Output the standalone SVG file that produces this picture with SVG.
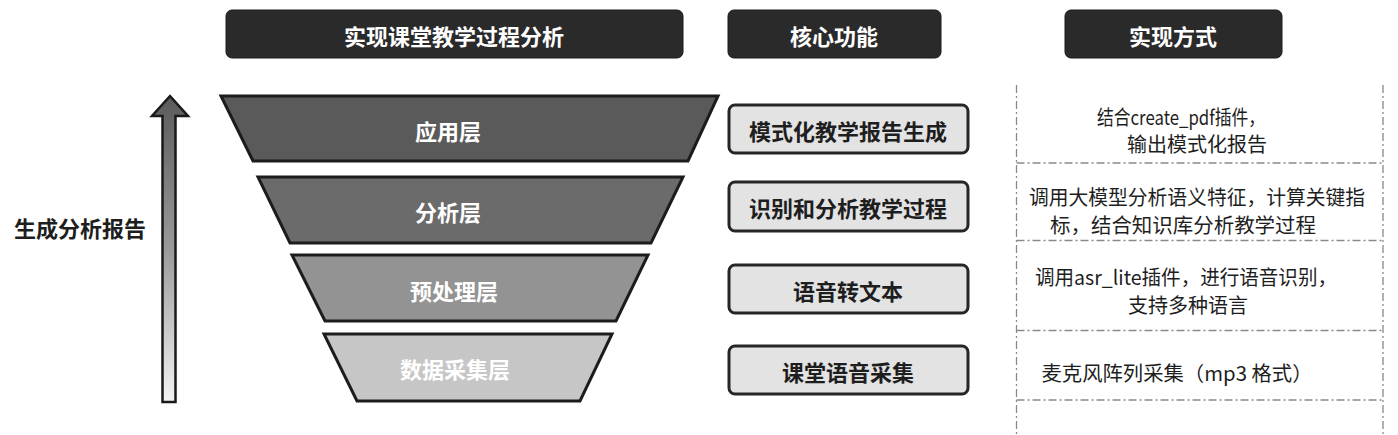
<svg xmlns="http://www.w3.org/2000/svg" width="1398" height="435" viewBox="0 0 1398 435">
<style>
.hdr{fill:#2b2a2b;stroke:#1a1a1a;stroke-width:1}
.hdrt{font-family:"Noto Sans CJK SC","Noto Sans",sans-serif;font-weight:bold;font-size:22px;fill:#ffffff;text-anchor:middle;dominant-baseline:central}
.trap{stroke:#1c1c1c;stroke-width:3;stroke-linejoin:miter}
.trapt{font-family:"Noto Sans CJK SC","Noto Sans",sans-serif;font-weight:bold;font-size:22px;fill:#ffffff;text-anchor:middle;dominant-baseline:central}
.fn{fill:#e3e3e3;stroke:#262626;stroke-width:3}
.fnt{font-family:"Noto Sans CJK SC","Noto Sans",sans-serif;font-weight:bold;font-size:22px;fill:#1e1e1e;text-anchor:middle;dominant-baseline:central}
.dd{stroke:#8a8a8a;stroke-width:1.3;fill:none;stroke-dasharray:8 3 2 3}
.rt{font-family:"Noto Sans CJK SC","Noto Sans",sans-serif;font-size:20px;fill:#1e1e1e;text-anchor:middle;dominant-baseline:central}
.side{font-family:"Noto Sans CJK SC","Noto Sans",sans-serif;font-weight:bold;font-size:22px;fill:#1e1e1e;text-anchor:middle;dominant-baseline:central}
</style>
<defs>
<linearGradient id="ag" x1="0" y1="0" x2="0" y2="1">
<stop offset="0" stop-color="#5a5a5a"/>
<stop offset="0.5" stop-color="#9a9a9a"/>
<stop offset="1" stop-color="#f4f4f4"/>
</linearGradient>
</defs>

<g id="header-1"><rect class="hdr" x="226" y="10" width="457" height="48" rx="6"/><text class="hdrt" x="454" y="35">实现课堂教学过程分析</text></g>
<g id="header-2"><rect class="hdr" x="728" y="10" width="213" height="48" rx="6"/><text class="hdrt" x="834" y="35">核心功能</text></g>
<g id="header-3"><rect class="hdr" x="1065" y="10" width="217" height="48" rx="6"/><text class="hdrt" x="1173" y="35">实现方式</text></g>

<g id="arrow">
<path d="M162.5,402 L162.5,116 L152,116 L170,96 L188,116 L175.5,116 L175.5,402 Z" fill="url(#ag)" stroke="#1a1a1a" stroke-width="2.5" stroke-linejoin="miter"/>
</g>
<g id="side-label"><text class="side" x="80" y="227">生成分析报告</text></g>

<g id="layer-1"><polygon class="trap" fill="#5a5a5a" points="221,96 718,96 688,161 253,161"/><text class="trapt" x="448" y="130">应用层</text></g>
<g id="layer-2"><polygon class="trap" fill="#6b6b6b" points="258,177 683,177 651,243 290,243"/><text class="trapt" x="448" y="211">分析层</text></g>
<g id="layer-3"><polygon class="trap" fill="#939393" points="292,255 648,255 616,321 325,321"/><text class="trapt" x="454" y="290">预处理层</text></g>
<g id="layer-4"><polygon class="trap" fill="#c6c6c6" points="324,334 612,334 580,401 357,401"/><text class="trapt" x="455" y="368" fill="#f2f2f2">数据采集层</text></g>

<g id="fn-1"><rect class="fn" x="729" y="105" width="239" height="48" rx="6"/><text class="fnt" x="848" y="130">模式化教学报告生成</text></g>
<g id="fn-2"><rect class="fn" x="729" y="182" width="239" height="49" rx="6"/><text class="fnt" x="848" y="207">识别和分析教学过程</text></g>
<g id="fn-3"><rect class="fn" x="729" y="265" width="239" height="48" rx="6"/><text class="fnt" x="848" y="290">语音转文本</text></g>
<g id="fn-4"><rect class="fn" x="729" y="346" width="239" height="48" rx="6"/><text class="fnt" x="848" y="371">课堂语音采集</text></g>

<g id="connectors">
<line class="dd" x1="1016.5" y1="85" x2="1016.5" y2="435"/>
<line class="dd" x1="1383" y1="85" x2="1383" y2="435"/>
<line class="dd" x1="1016.5" y1="163" x2="1383" y2="163"/>
<line class="dd" x1="1016.5" y1="240.5" x2="1383" y2="240.5"/>
<line class="dd" x1="1016.5" y1="330.5" x2="1383" y2="330.5"/>
<line class="dd" x1="1016.5" y1="400" x2="1383" y2="400"/>
</g>

<g id="impl-1"><text class="rt" x="1181" y="116" textLength="168" lengthAdjust="spacingAndGlyphs">结合create_pdf插件，</text><text class="rt" x="1197" y="143">输出模式化报告</text></g>
<g id="impl-2"><text class="rt" x="1197" y="196" textLength="336" lengthAdjust="spacingAndGlyphs">调用大模型分析语义特征，计算关键指</text><text class="rt" x="1183" y="224" textLength="266" lengthAdjust="spacingAndGlyphs">标，结合知识库分析教学过程</text></g>
<g id="impl-3"><text class="rt" x="1186" y="276" textLength="302" lengthAdjust="spacingAndGlyphs">调用asr_lite插件，进行语音识别，</text><text class="rt" x="1188" y="304">支持多种语言</text></g>
<g id="impl-4"><text class="rt" x="1177" y="372" textLength="271" lengthAdjust="spacingAndGlyphs">麦克风阵列采集（mp3 格式）</text></g>
</svg>
